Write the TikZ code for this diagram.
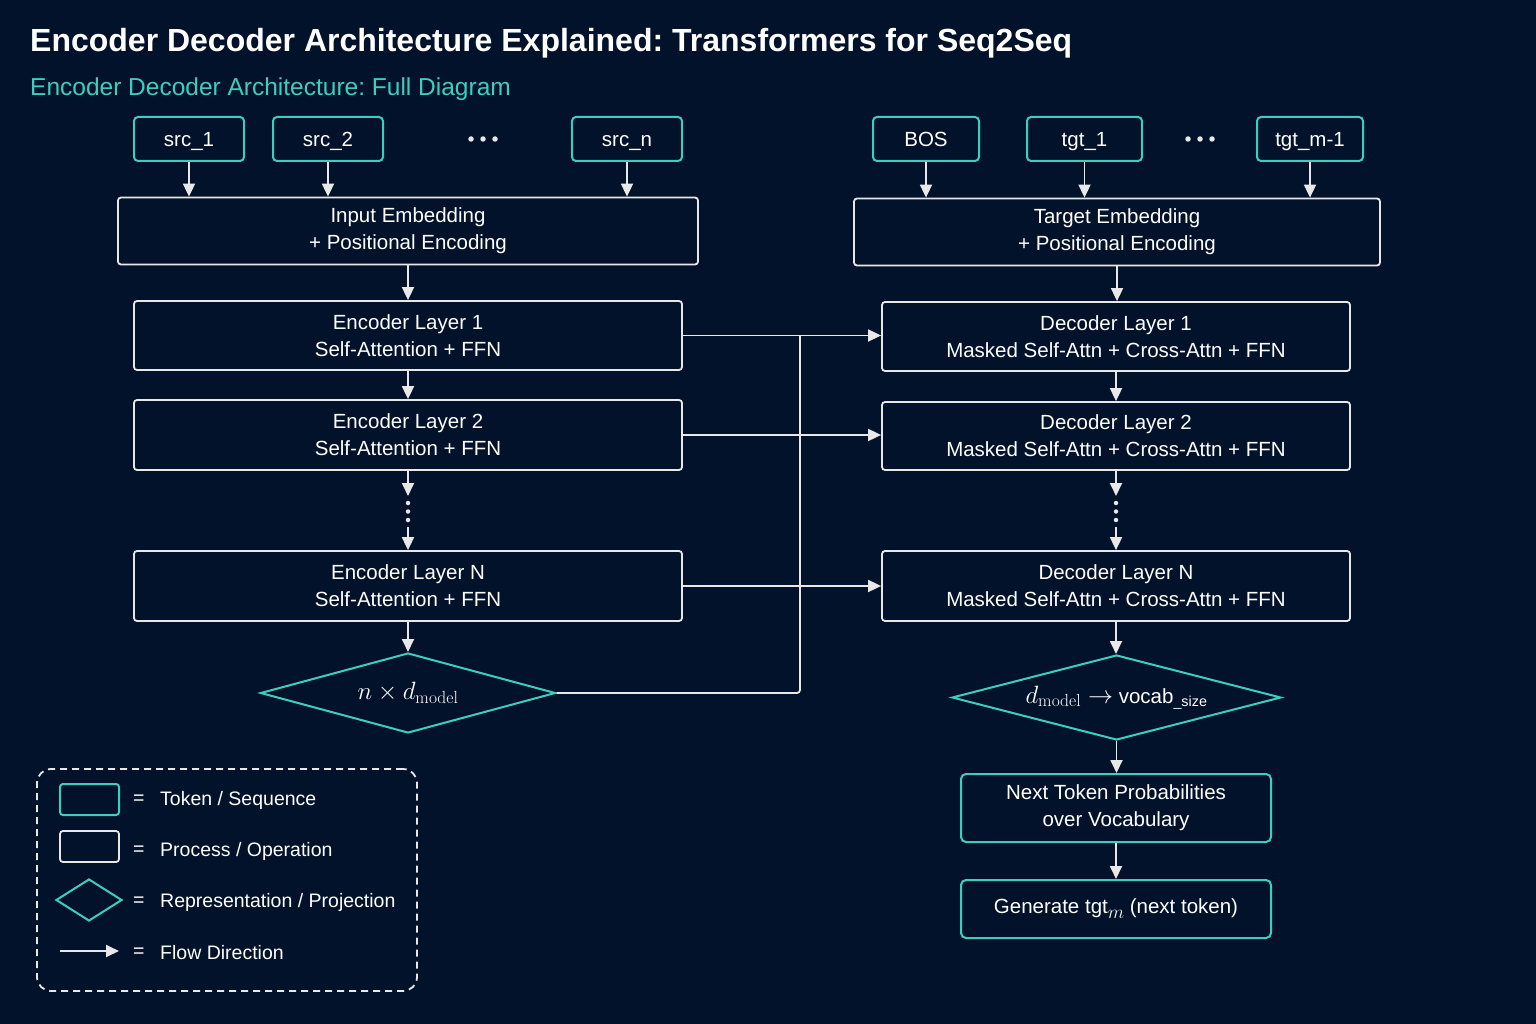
\RequirePackage{fix-cm}
\documentclass[tikz,border=0pt]{standalone}
\usepackage[no-math]{fontspec}
\setmainfont{Liberation Sans}
\usepackage{amsmath}
\usetikzlibrary{arrows.meta,shapes.geometric}
\definecolor{bg}{HTML}{02122A}
\definecolor{accent}{HTML}{3CCFBF}
\definecolor{lin}{HTML}{E8E8E8}
\frenchspacing
\tikzset{
  txt/.style={text=white, font=\fontsize{20.5}{27}\selectfont},
  tok/.style={txt, draw=accent, line width=2pt, rounded corners=4pt, minimum height=44pt, inner sep=0pt},
  tokfix/.style={text height=14.5pt, text depth=0pt},
  proc/.style={txt, draw=lin, line width=1.8pt, rounded corners=3pt, align=center, inner sep=0pt},
  rep/.style={txt, diamond, draw=accent, line width=2pt, inner sep=0pt},
  arr/.style={draw=lin, line width=1.8pt, -{Triangle[length=13pt,width=12pt]}},
  ln/.style={draw=lin, line width=1.8pt},
  dotc/.style={circle, fill=lin, inner sep=0pt, minimum size=4.5pt},
  bigdot/.style={circle, fill=lin, inner sep=0pt, minimum size=5.5pt},
}
\begin{document}
\begin{tikzpicture}[x=1pt,y=-1pt]
\fill[bg] (0,0) rectangle (1536,1024);
\useasboundingbox (0,0) rectangle (1536,1024);

% titles
\node[anchor=base west, inner sep=0, text=white, font=\fontsize{32}{36}\selectfont\bfseries] (title) at (30,52) {Encoder Decoder Architecture Explained: Transformers for Seq2Seq};
\node[anchor=base west, inner sep=0, text=accent, font=\fontsize{24.5}{28}\selectfont] (sub) at (30,96) {Encoder Decoder Architecture: Full Diagram};

% tokens
\node[tok, tokfix, minimum width=110pt] (s1) at (189,139) {src\_1};
\node[tok, tokfix, minimum width=110pt] (s2) at (328,139) {src\_2};
\node[tok, tokfix, minimum width=110pt] (sn) at (627,139) {src\_n};
\node[tok, tokfix, minimum width=106pt] (bos) at (926,139) {BOS};
\node[tok, tokfix, minimum width=115pt] (t1) at (1084.5,139) {tgt\_1};
\node[tok, tokfix, minimum width=106pt] (tm) at (1310,139) {tgt\_m-1};
\foreach \x [count=\i] in {471,483,495} \node[bigdot] (sd\i) at (\x,139) {};
\foreach \x [count=\i] in {1188,1200,1212} \node[bigdot] (td\i) at (\x,139) {};

% embeddings
\node[proc, minimum width=580pt, minimum height=67pt] (iemb) at (408,231) {Input Embedding\\+ Positional Encoding};
\node[proc, minimum width=526pt, minimum height=67pt] (temb) at (1117,232) {Target Embedding\\+ Positional Encoding};

% encoder layers
\node[proc, minimum width=548pt, minimum height=69pt] (e1) at (408,335.5) {Encoder Layer 1\\Self-Attention + FFN};
\node[proc, minimum width=548pt, minimum height=70pt] (e2) at (408,435) {Encoder Layer 2\\Self-Attention + FFN};
\node[proc, minimum width=548pt, minimum height=70pt] (eN) at (408,586) {Encoder Layer N\\Self-Attention + FFN};
\node[rep, shape aspect=3.69, minimum width=295pt, minimum height=80pt, font=\fontsize{25}{30}\selectfont] (erep) at (408,693) {$n \times d_{\mathrm{model}}$};

% decoder layers
\node[proc, minimum width=468pt, minimum height=69pt] (d1) at (1116,336.5) {Decoder Layer 1\\Masked Self-Attn + Cross-Attn + FFN};
\node[proc, minimum width=468pt, minimum height=68pt] (d2) at (1116,436) {Decoder Layer 2\\Masked Self-Attn + Cross-Attn + FFN};
\node[proc, minimum width=468pt, minimum height=70pt] (dN) at (1116,586) {Decoder Layer N\\Masked Self-Attn + Cross-Attn + FFN};
\node[rep, shape aspect=3.87, minimum width=329pt, minimum height=85pt] (drep) at (1116.5,697.5) {{\fontsize{25}{30}\selectfont$d_{\mathrm{model}} \rightarrow$} vocab$_{\text{\_size}}$};
\node[tok, align=center, minimum width=310pt, minimum height=68pt, rounded corners=5pt] (prob) at (1116,808) {Next Token Probabilities\\over Vocabulary};
\node[tok, minimum width=310pt, minimum height=58pt, rounded corners=5pt] (gen) at (1116,909) {Generate tgt\raisebox{-5pt}{\fontsize{19}{22}\selectfont$m$} (next token)};

% token arrows
\draw[arr] (s1.south) -- (s1.south |- iemb.north);
\draw[arr] (s2.south) -- (s2.south |- iemb.north);
\draw[arr] (sn.south) -- (sn.south |- iemb.north);
\draw[arr] (bos.south) -- (bos.south |- temb.north);
\draw[arr] (t1.south) -- (t1.south |- temb.north);
\draw[arr] (tm.south) -- (tm.south |- temb.north);

% encoder flow
\draw[arr] (iemb.south) -- (e1.north);
\draw[arr] (e1.south) -- (e2.north);
\coordinate (ea) at (408,496);
\coordinate (eb) at (408,527);
\draw[arr] (e2.south) -- (ea);
\foreach \y [count=\i] in {503,511.5,520} \node[dotc] (ed\i) at (408,\y) {};
\draw[arr] (eb) -- (eN.north);
\draw[arr] (eN.south) -- (erep.north);

% decoder flow
\draw[arr] (temb.south) -- (temb.south |- d1.north);
\draw[arr] (d1.south) -- (d2.north);
\coordinate (da) at (1116,496);
\coordinate (db) at (1116,527);
\draw[arr] (d2.south) -- (da);
\foreach \y [count=\i] in {503,511.5,520} \node[dotc] (dd\i) at (1116,\y) {};
\draw[arr] (db) -- (dN.north);
\draw[arr] (dN.south) -- (dN.south |- drep.north);
\draw[arr] (drep.south) -- (drep.south |- prob.north);
\draw[arr] (prob.south) -- (gen.north);

% cross connections
\coordinate (bustop) at (800,336);
\draw[ln, rounded corners=3pt] (erep.east) -- (erep.east -| bustop) -- (bustop);
\draw[arr] (e1.east) -- (e1.east -| d1.west);
\draw[arr] (e2.east) -- (e2.east -| d2.west);
\draw[arr] (eN.east) -- (eN.east -| dN.west);

% legend
\node[draw=lin, line width=1.8pt, dash pattern=on 7pt off 5pt, rounded corners=14pt, minimum width=380pt, minimum height=222pt, inner sep=0] (legend) at (227,880) {};
\node[draw=accent, line width=2pt, rounded corners=3pt, minimum width=59pt, minimum height=31pt, inner sep=0] (lk1) at (89.5,799.5) {};
\node[draw=lin, line width=1.8pt, rounded corners=3pt, minimum width=59pt, minimum height=31pt, inner sep=0] (lk2) at (89.5,846.5) {};
\node[diamond, shape aspect=1.57, draw=accent, line width=2pt, minimum width=66pt, minimum height=42pt, inner sep=0] (lk3) at (89,900) {};
\coordinate (la) at (60,951);
\coordinate (lb) at (119,951);
\draw[arr] (la) -- (lb);
\tikzset{legt/.style={anchor=west, inner sep=0, text=white, font=\fontsize{19.5}{24}\selectfont}}
\node[legt] (eq1) at (133,800) {=};
\node[legt] (eq2) at (133,851) {=};
\node[legt] (eq3) at (133,902) {=};
\node[legt] (eq4) at (133,953) {=};
\node[legt] (lt1) at (160,800) {Token / Sequence};
\node[legt] (lt2) at (160,851) {Process / Operation};
\node[legt] (lt3) at (160,902) {Representation / Projection};
\node[legt] (lt4) at (160,953) {Flow Direction};
\end{tikzpicture}
\end{document}
